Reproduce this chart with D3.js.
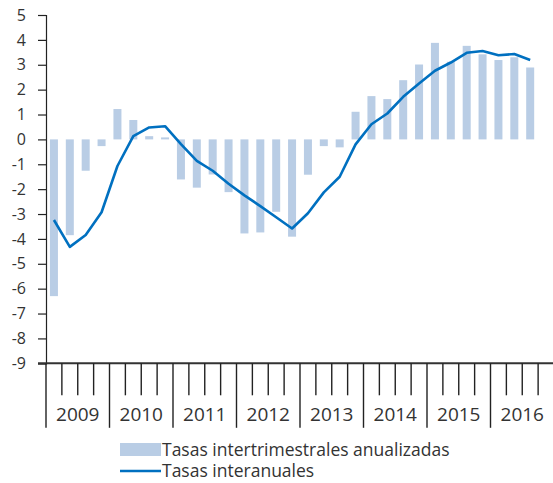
<!DOCTYPE html>
<html>
<head>
<meta charset="utf-8">
<script src="https://cdn.jsdelivr.net/npm/d3@7"></script>
<style>
  body { margin: 0; background: #fff; }
  svg { display: block; }
  text { font-family: "Open Sans", sans-serif; fill: #333; }
</style>
</head>
<body>
<div id="chart"></div>
<script>
// datos trimestrales 2009T1 - 2016T3
var years = ["2009","2010","2011","2012","2013","2014","2015","2016"];
var quarters = ["T1","T2","T3","T4"];
var yTicks = [5,4,3,2,1,0,-1,-2,-3,-4,-5,-6,-7,-8,-9];

var tasasIntertrimestrales = [-6.3,-3.85,-1.26,-0.27, 1.22,0.78,0.13,0.08,
  -1.61,-1.94,-1.41,-2.12, -3.78,-3.74,-2.91,-3.91,
  -1.42,-0.27,-0.32,1.11, 1.74,1.62,2.38,3.01,
  3.88,3.12,3.76,3.42, 3.19,3.30,2.89];
var tasasInteranuales = [-3.24,-4.32,-3.84,-2.93, -1.07,0.13,0.48,0.53,
  -0.19,-0.86,-1.26,-1.78, -2.25,-2.68,-3.13,-3.58,
  -2.97,-2.13,-1.5,-0.2, 0.61,1.04,1.71,2.25,
  2.76,3.09,3.48,3.55, 3.38,3.43,3.19];

var W = 553, H = 483;
var x0 = 46, x1 = 554, yTop = 15, yBot = 363.3;

var svg = d3.select("#chart").append("svg")
    .attr("width", W).attr("height", H);

var periods = [];
years.forEach(function (y) {
    quarters.forEach(function (q) { periods.push(y + q); });
});

var x = d3.scaleBand().domain(periods).range([x0, x1]).paddingInner(0).paddingOuter(0);
var xYear = d3.scaleBand().domain(years).range([x0, x1]);
var y = d3.scaleLinear().domain([-9, 5]).range([yBot, yTop]);

var barW = 8;

// barras
svg.append("g").selectAll("rect")
    .data(tasasIntertrimestrales)
    .enter()
    .append("rect")
    .attr("x", function (d, i) { return x(periods[i]) + x.bandwidth() / 2 - barW / 2; })
    .attr("y", function (d) { return y(Math.max(0, d)); })
    .attr("width", barW)
    .attr("height", function (d) { return Math.abs(y(d) - y(0)); })
    .attr("fill", "#b9cde5");

// linea
var line = d3.line()
    .x(function (d, i) { return x(periods[i]) + x.bandwidth() / 2; })
    .y(function (d) { return y(d); });
svg.append("path")
    .datum(tasasInteranuales)
    .attr("d", line)
    .attr("fill", "none")
    .attr("stroke", "#0070c0")
    .attr("stroke-width", 2.6)
    .attr("stroke-linejoin", "round");

// eje y
var yAxis = svg.append("g")
    .attr("transform", "translate(" + x0 + ",0)")
    .call(d3.axisLeft(y).tickValues(yTicks).tickSize(8).tickPadding(12)
        .tickFormat(function (d) { return String(d); }));
yAxis.select(".domain").attr("stroke", "#222").attr("stroke-width", 1.2);
yAxis.selectAll(".tick line").attr("stroke", "#222").attr("stroke-width", 1.2);
yAxis.selectAll("text").style("font-size", "16px").style("font-family", "Open Sans").attr("fill", "#333");

// eje x: trimestres
var xAxis = svg.append("g")
    .attr("transform", "translate(0," + yBot + ")");
xAxis.append("line")
    .attr("x1", x0 - 8).attr("x2", W)
    .attr("y1", 0).attr("y2", 0)
    .attr("stroke", "#333").attr("stroke-width", 2);
xAxis.selectAll(".qtick")
    .data(periods)
    .enter()
    .append("line")
    .attr("class", "qtick")
    .attr("x1", function (d) { return x(d); })
    .attr("x2", function (d) { return x(d); })
    .attr("y1", 0)
    .attr("y2", function (d) { return d.slice(4) === "T1" ? 64.5 : 32; })
    .attr("stroke", "#222").attr("stroke-width", 1.4);
xAxis.selectAll(".ylabel")
    .data(years)
    .enter()
    .append("text")
    .attr("x", function (d) { return xYear(d) + xYear.bandwidth() / 2; })
    .attr("y", 57.5)
    .attr("text-anchor", "middle")
    .style("font-size", "19px")
    .text(function (d) { return d; });

// leyenda
var leg = svg.append("g");
leg.append("rect")
    .attr("x", 120).attr("y", 443).attr("width", 41).attr("height", 13)
    .attr("fill", "#b9cde5");
leg.append("text")
    .attr("x", 162).attr("y", 456)
    .style("font-size", "17.5px")
    .text("Tasas intertrimestrales anualizadas");
leg.append("line")
    .attr("x1", 120).attr("x2", 161).attr("y1", 471).attr("y2", 471)
    .attr("stroke", "#0070c0").attr("stroke-width", 2.6);
leg.append("text")
    .attr("x", 162).attr("y", 477)
    .style("font-size", "17.5px")
    .text("Tasas interanuales");
</script>
</body>
</html>
